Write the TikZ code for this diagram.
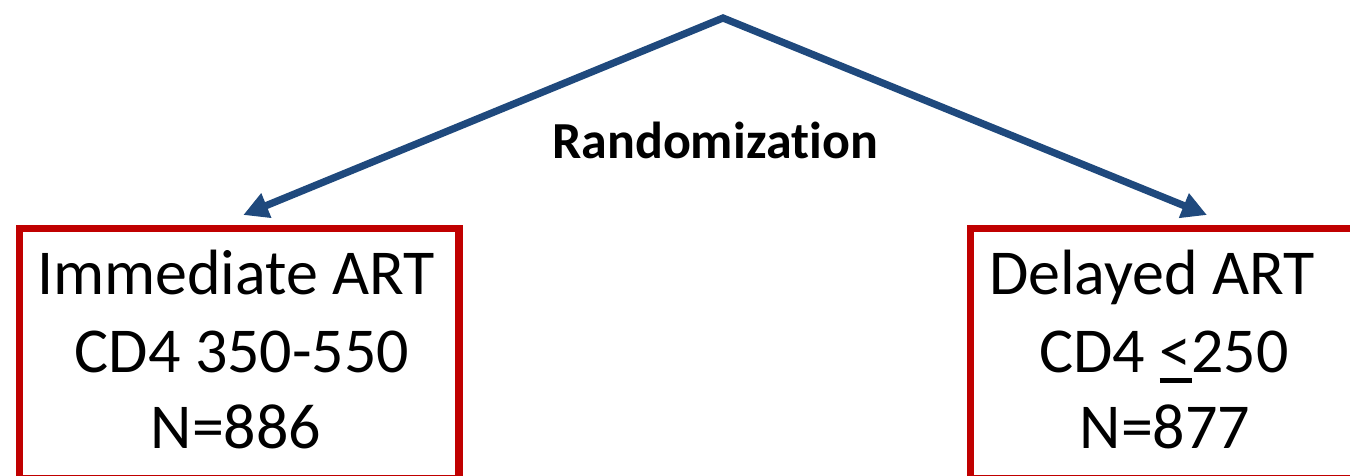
\documentclass[tikz,border=0pt]{standalone}
\usepackage{fontspec}
\setmainfont[Ligatures={NoCommon}]{Carlito}
\usetikzlibrary{arrows.meta,calc}
\definecolor{armred}{HTML}{C00000}
\definecolor{flowblue}{HTML}{1F497D}
\begin{document}
\begin{tikzpicture}[x=1pt,y=-1pt,
  armbox/.style={draw=armred, line width=7.5pt, rectangle, inner sep=0pt, anchor=north west},
  armtext/.style={anchor=base, inner sep=0pt, font=\fontsize{64}{77}\selectfont},
  branch/.style={draw=flowblue, line width=7.25pt, line join=miter,
    {Triangle[length=25pt,width=25pt]}-{Triangle[length=25pt,width=25pt]}},
  title/.style={anchor=base, inner sep=0pt, font=\fontsize{52}{62}\selectfont\bfseries}]
  \useasboundingbox (0,0) rectangle (1350,475);

  % the two study arms
  \node[armbox, minimum width=439.5pt, minimum height=250pt] (immbox) at (15.75,224.75) {};
  \node[armbox, minimum width=396pt, minimum height=250pt] (delbox) at (966.75,224.75) {};

  \node[armtext] (imm1) at (236,294) {Immediate ART};
  \node[armtext] (imm2) at (242,372) {CD4 350-550};
  \node[armtext] (imm3) at (236,448) {N=886};

  \node[armtext] (del1) at (1152,294) {Delayed ART};
  \node[armtext] (del2) at (1164,372) {CD4 \rlap{\rule[-11pt]{32pt}{5pt}}<250};
  \node[armtext] (del3) at (1165,448) {N=877};

  % randomization split
  \coordinate (apex) at (723,18);
  \coordinate (immtip) at ($(immbox.north)+(4,-9.75)$);
  \coordinate (deltip) at ($(delbox.north west)+(240.25,-9.75)$);
  \path[branch] (immtip) -- (apex) -- (deltip);

  \node[title] (rand) at (715,158) {Randomization};
\end{tikzpicture}
\end{document}
